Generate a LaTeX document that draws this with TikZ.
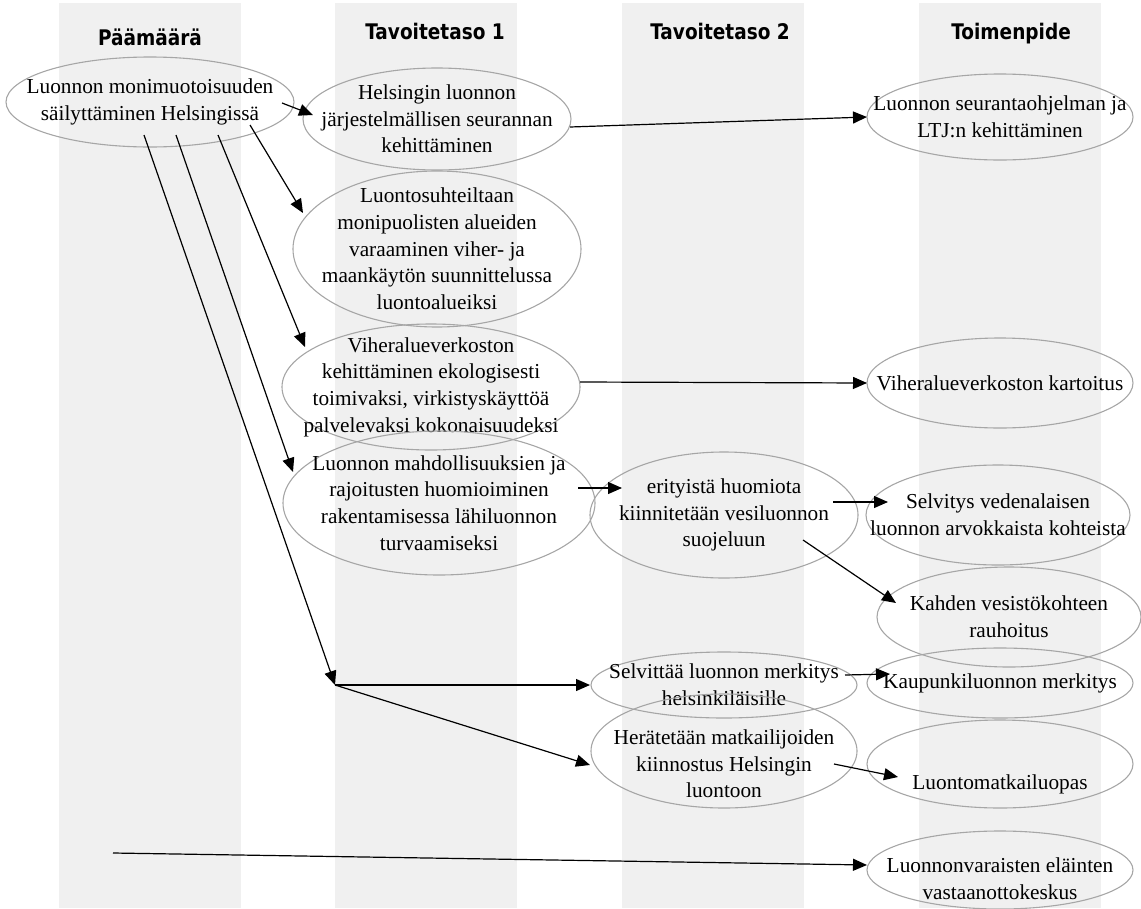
\documentclass[tikz,border=0pt]{standalone}
\usepackage{fontspec}
\setmainfont{Liberation Serif}
\newfontfamily\headfont[FakeStretch=0.86]{DejaVu Sans}
\usetikzlibrary{shapes.geometric,arrows.meta,calc}
\newcommand{\colband}[1]{\fill[band] (#1,3) rectangle ++(182,905);}

\begin{document}
\begin{tikzpicture}
  [x=1pt,y=-1pt,
  band/.style={black!6},
  head/.style={anchor=base,font=\headfont\bfseries\fontsize{21.5}{24}\selectfont},
  goal/.style={ellipse,draw=black!35,line width=1.1pt,inner sep=-40pt,align=center,
    font=\fontsize{21.3}{26.7}\selectfont},
  arrow/.style={-{Triangle[length=14pt,width=12pt]},line width=1.2pt},
  ]
  \useasboundingbox (0,0) rectangle (1141,908);
  \foreach \x in {59,335,622,919}{\colband{\x}}

  \node[head] (paamaara) at (150,45) {Päämäärä};
  \node[head] (taso1) at (435,39) {Tavoitetaso 1};
  \node[head] (taso2) at (720,39) {Tavoitetaso 2};
  \node[head] (toimenpide) at (1011,39) {Toimenpide};

  \node[goal, minimum width=288, minimum height=90] (A) at (150,102)
    {Luonnon monimuotoisuuden\\säilyttäminen Helsingissä};
  \node[goal, minimum width=268, minimum height=102] (B) at (437,119)
    {Helsingin luonnon\\järjestelmällisen seurannan\\kehittäminen};
  \node[goal, minimum width=266, minimum height=86] (C) at (1000,117)
    {Luonnon seurantaohjelman ja\\LTJ:n kehittäminen};
  \node[goal, minimum width=288, minimum height=156] (D) at (437,249)
    {Luontosuhteiltaan\\monipuolisten alueiden\\varaaminen viher- ja\\maankäytön suunnittelussa\\luontoalueiksi};
  \node[goal, minimum width=298, minimum height=126] (E) at (431,387)
    {Viheralueverkoston\\kehittäminen ekologisesti\\toimivaksi, virkistyskäyttöä\\palvelevaksi kokonaisuudeksi};
  \node[goal, minimum width=266, minimum height=90] (F) at (1000,383)
    {Viheralueverkoston kartoitus};
  \node[goal, minimum width=312, minimum height=144] (G) at (439,503)
    {Luonnon mahdollisuuksien ja\\rajoitusten huomioiminen\\rakentamisessa lähiluonnon\\turvaamiseksi};
  \node[goal, minimum width=268, minimum height=126] (H) at (724,515)
    {erityistä huomiota\\kiinnitetään vesiluonnon\\suojeluun};
  \node[goal, minimum width=264, minimum height=100] (I) at (998,515)
    {Selvitys vedenalaisen\\luonnon arvokkaista kohteista};
  \node[goal, minimum width=264, minimum height=100] (J) at (1009,617)
    {Kahden vesistökohteen\\rauhoitus};
  \node[goal, minimum width=266, minimum height=66] (K) at (724,685)
    {Selvittää luonnon merkitys\\helsinkiläisille};
  \node[goal, minimum width=266, minimum height=114, text height=93.4pt, text depth=0pt] (L) at (724,751)
    {Herätetään matkailijoiden\\kiinnostus Helsingin\\luontoon};
  \node[goal, minimum width=266, minimum height=70] (M) at (1000,683)
    {Kaupunkiluonnon merkitys};
  \node[goal, minimum width=266, minimum height=88, text height=54.6pt, text depth=4.6pt] (N) at (1000,764)
    {Luontomatkailuopas};
  \node[goal, minimum width=266, minimum height=78, text height=58.7pt, text depth=0pt] (O) at (1000,870)
    {Luonnonvaraisten eläinten\\vastaanottokeskus};

  \coordinate (fork) at (335,685);
  \coordinate (src) at (113,853);

  \draw[arrow] ($(A)+(132,1)$) -- ($(B)+(-124,-4)$);
  \draw[arrow] ($(B)+(133,8)$) -- ($(C)+(-133,0)$);
  \draw[arrow] ($(A)+(100,23)$) -- ($(D)+(-134,-36)$);
  \draw[arrow] ($(A)+(68,33)$) -- ($(E)+(-126,-40)$);
  \draw[arrow] ($(A)+(26,33)$) -- ($(G)+(-146,-31)$);
  \draw[arrow] ($(A)+(-6,33)$) -- (fork);
  \draw[arrow] (fork) -- ($(K)+(-134,0)$);
  \draw[arrow] (fork) -- ($(L)+(-134,14)$);
  \draw[arrow] ($(E)+(149,-5)$) -- ($(F)+(-133,0)$);
  \draw[arrow] ($(G)+(139,-15)$) -- ($(H)+(-102,-27)$);
  \draw[arrow] ($(H)+(109,-13)$) -- ($(I)+(-110,-13)$);
  \draw[arrow] ($(H)+(79,25)$) -- ($(J)+(-113,-14)$);
  \draw[arrow] ($(K)+(121,-10)$) -- ($(M)+(-110,-9)$);
  \draw[arrow] ($(L)+(110,13)$) -- ($(N)+(-102,13)$);
  \draw[arrow] (src) -- ($(O)+(-133,-5)$);
\end{tikzpicture}
\end{document}
